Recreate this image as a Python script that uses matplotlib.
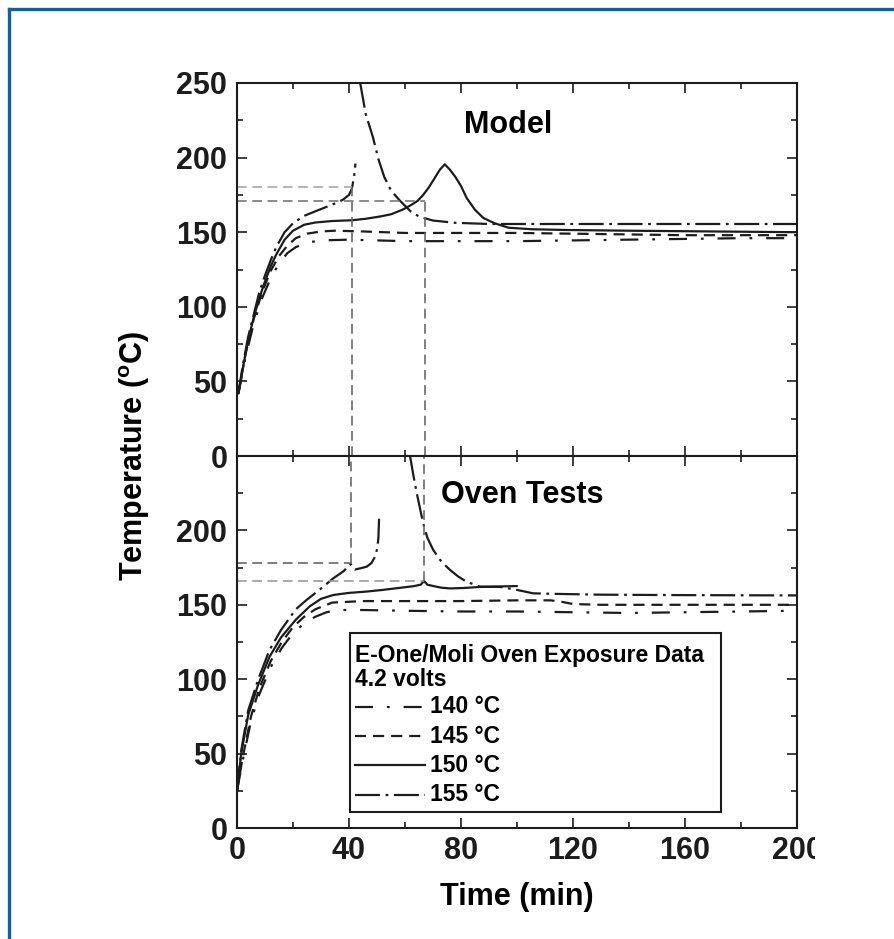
import numpy as np
import matplotlib
matplotlib.use("Agg")
import matplotlib.pyplot as plt
from matplotlib.lines import Line2D
from matplotlib.patches import Rectangle

plt.rcParams["font.family"] = ["Liberation Sans", "DejaVu Sans"]
plt.rcParams["font.weight"] = "bold"
plt.rcParams["lines.scale_dashes"] = False
plt.rcParams["mathtext.fontset"] = "custom"
plt.rcParams["mathtext.rm"] = "Liberation Sans:bold"
plt.rcParams["mathtext.bf"] = "Liberation Sans:bold"

nan = np.nan

# ---- Model (top panel) ----
model_t_140 = [0.5, 3, 6, 9, 12, 15, 18, 21, 25, 30, 40, 60, 80, 100, 120, 140, 160, 180, 200]
model_T_140 = [42, 66, 89, 106, 119, 129, 136, 140, 143, 144.5, 145, 144, 144, 144, 144.5, 145, 145.5, 146, 146]

model_t_145 = [0.5, 3, 6, 9, 12, 15, 18, 21, 25, 30, 35, 45, 60, 80, 100, 120, 140, 160, 180, 200]
model_T_145 = [42, 68, 92, 110, 124, 134, 141, 146, 149, 150.5, 151, 150.5, 149.5, 149.5, 149.5, 149, 148.5, 148, 148, 148]

model_t_150 = [0.5, 2, 4, 6, 8, 10, 12, 14, 17, 20, 24, 28, 34, 41, 46, 51, 55, 59, 62, 64.5,
               66.5, 68.5, 70.5, 72.5, 74.2, 76, 78, 80, 82, 85, 88, 92, 97, 105, 117, 140, 170, 200]
model_T_150 = [42, 58, 78, 93, 106, 117, 127, 135, 145, 151, 155, 156.5, 157.5, 158, 159, 160.5, 162, 165, 168, 171,
               175, 180, 186, 192, 195.5, 192, 187, 181, 173, 165, 159.5, 156, 153, 152, 151.5, 151, 150.5, 150]

model_t_155 = [0.5, 2, 4, 6, 8, 10, 12, 14, 17, 20, 24, 28, 32, 36, 38, 40, 41, 41.8, 42.3, nan,
               44, 46, 48.5, 50.5, 52.6, 55, 58, 62, 65, 70, 78, 90, 120, 160, 200]
model_T_155 = [42, 60, 80, 95, 110, 121, 131, 140, 150, 156, 161, 164, 167, 170, 172, 175, 179, 187, 196, nan,
               250, 229, 214, 199, 187, 178, 171.5, 164, 160.5, 157.8, 156.3, 155.5, 155.5, 155.5, 155.5]

model_onset_t = [41, 67]
model_onset_T = [180.5, 171]

# ---- Oven tests (bottom panel) ----
oven_t_140 = [0, 2, 5, 8, 12, 16, 20, 24, 28, 32, 36, 45, 60, 80, 100, 120, 140, 160, 180, 200]
oven_T_140 = [25, 45, 72, 90, 108, 121, 131, 137.5, 142, 145, 146.5, 146.5, 146, 145.5, 145.5, 145, 144.5, 145, 145.5, 146]

oven_t_145 = [0, 2, 5, 8, 12, 16, 20, 24, 28, 34, 45, 60, 80, 100, 112, 116, 120, 130, 150, 170, 200]
oven_T_145 = [25, 47, 75, 94, 112, 125, 135, 142, 147, 151.5, 152.5, 152.5, 152.5, 153, 153, 152, 150.5, 150, 150, 150, 150]

oven_t_150 = [0, 1.5, 4, 7.5, 11.6, 15.7, 21, 26, 30, 34.4, 40, 46.3, 52, 58.2, 63, 65.6, 66.8, 68,
              70.1, 73, 76.1, 81, 86.8, 93, 99.9]
oven_T_150 = [25, 50, 76, 96, 115, 128, 140, 149, 154, 156.6, 158, 158.9, 160, 161.4, 162.5, 163.5, 166, 163.5,
              162.6, 161.5, 161, 161.3, 162, 162.3, 162.6]

oven_t_155 = [0, 1.5, 4, 7.5, 11.6, 15.7, 21, 25, 29.4, 34.4, 38, 40.6, 41.3, 42.1, 44, 46.3, 48, 49.3, 50.1, 50.5, 50.8, nan,
              61.8, 63, 64.2, 66.5, 68, 70.1, 73, 76.1, 79, 82, 86.8, 94, 100, 105.8, 112, 130, 160, 200]
oven_T_155 = [25, 52, 79, 99.5, 119.6, 133, 147, 153.5, 160, 167.8, 172.5, 177.5, 175, 173.7, 174.5, 175.6, 178, 182.3, 188, 195, 211.5, nan,
              250, 237, 225, 204.7, 195, 186.8, 179, 173.4, 169, 165.5, 162.2, 162, 160, 157.7, 157.4, 156.8, 156.5, 156.3]

oven_onset_t = [40.6, 66.8]
oven_onset_T = [178, 166]

labels = ["140 °C", "145 °C", "150 °C", "155 °C"]
ink = "#1c1c1c"
styles = [(0, (13, 10, 2, 10)), (0, (8, 5)), "-", (0, (18, 4, 2, 4))]

fig = plt.figure(figsize=(8.94, 9.39), dpi=100)
ax_top = fig.add_axes([237 / 894, 1 - 456 / 939, 560 / 894, 373 / 939])
ax_bot = fig.add_axes([237 / 894, 1 - 828 / 939, 560 / 894, 372 / 939])

model = [(model_t_140, model_T_140), (model_t_145, model_T_145),
         (model_t_150, model_T_150), (model_t_155, model_T_155)]
oven = [(oven_t_140, oven_T_140), (oven_t_145, oven_T_145),
        (oven_t_150, oven_T_150), (oven_t_155, oven_T_155)]

for (t, T), ls in zip(model, styles):
    ax_top.plot(t, T, color=ink, lw=1.6, ls=ls)
for (t, T), ls in zip(oven, styles):
    ax_bot.plot(t, T, color=ink, lw=1.6, ls=ls)

# onset guide lines
guide = dict(lw=1.2, ls=(0, (7, 4)))
for (t, T), c in zip(zip(model_onset_t, model_onset_T), ["#a8a8a8", "#777777"]):
    ax_top.plot([0, t], [T, T], color=c, **guide)
    ax_top.plot([t, t], [0, T], color="#6a6a6a", **guide)
for (t, T), c in zip(zip(oven_onset_t, oven_onset_T), ["#666666", "#9a9a9a"]):
    ax_bot.plot([0, t], [T, T], color=c, **guide)
    ax_bot.plot([t, t], [T, 250], color="#6a6a6a", **guide)

for ax in (ax_top, ax_bot):
    ax.set_xlim(0, 200)
    ax.set_ylim(0, 250)
    ax.set_xticks(np.arange(0, 201, 40))
    ax.set_xticks(np.arange(0, 201, 20), minor=True)
    ax.set_yticks(np.arange(0, 251, 25), minor=True)
    ax.tick_params(which="both", direction="in", top=True, right=True, width=1.2, colors=ink)
    ax.tick_params(which="major", length=7.5, labelsize=22, pad=7)
    ax.tick_params(which="minor", length=4)
    for sp in ax.spines.values():
        sp.set_linewidth(1.5)
        sp.set_color(ink)

ax_top.set_yticks(np.arange(0, 251, 50))
ax_top.tick_params(labelbottom=False)
ax_bot.set_yticks(np.arange(0, 201, 50))
ax_bot.tick_params(axis="x", pad=6)

ax_top.text(97, 216.5, "Model", ha="center", va="baseline", fontsize=22, fontweight="bold")
ax_bot.text(102, 218.4, "Oven Tests", ha="center", va="baseline", fontsize=22, fontweight="bold")

# legend box drawn by hand
ax_bot.add_patch(Rectangle((40.3, 11), 132.6, 120, fill=False, ec=ink, lw=1.5, zorder=4))
ax_bot.text(42.3, 116, "E-One/Moli Oven Exposure Data", ha="left", va="center",
            fontsize=16.5, fontweight="bold")
ax_bot.text(42.3, 99.5, "4.2 volts", ha="left", va="center", fontsize=16.5, fontweight="bold")
for row_T, lab, ls in zip([81.5, 61.8, 42.3, 22.2], labels, styles):
    ax_bot.add_line(Line2D([42.1, 67.1], [row_T, row_T], color=ink, lw=1.6, ls=ls))
    ax_bot.text(68.9, row_T, lab, ha="left", va="center", fontsize=16.5, fontweight="bold")

fig.text(135 / 894, 1 - 456 / 939, r"Temperature ($^{\mathbf{o}}$C)", rotation=90,
         ha="center", va="center", fontsize=22, fontweight="bold")
fig.text(517 / 894, 1 - 897 / 939, "Time (min)", ha="center", va="center",
         fontsize=22, fontweight="bold")

# the source image is cropped right through the last tick label
fig.add_artist(Rectangle((815 / 894, 0.06), 0.06, 0.06, transform=fig.transFigure,
                         fc="white", ec="none", zorder=10))

# blue frame (only left and top edges visible)
frame = "#1d5d96"
fig.add_artist(Line2D([9 / 894, 9 / 894], [0, 1 - 9 / 939], transform=fig.transFigure,
                      color=frame, lw=2.4, solid_capstyle="projecting"))
fig.add_artist(Line2D([9 / 894, 1], [1 - 9 / 939, 1 - 9 / 939], transform=fig.transFigure,
                      color=frame, lw=2.4, solid_capstyle="projecting"))

fig.savefig("out.png", dpi=100)
